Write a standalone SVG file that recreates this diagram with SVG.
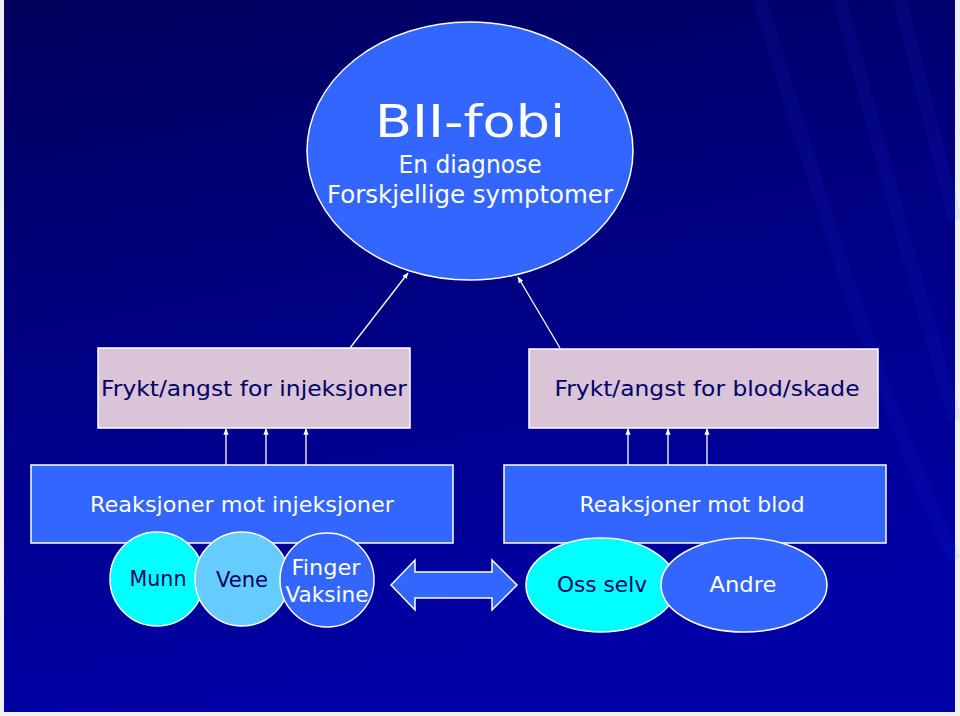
<svg xmlns="http://www.w3.org/2000/svg" width="960" height="716" viewBox="0 0 960 716">
<defs>
<linearGradient id="bg" x1="0" y1="0" x2="0.25" y2="1">
<stop offset="0" stop-color="#00005c"/>
<stop offset="0.45" stop-color="#000080"/>
<stop offset="1" stop-color="#0000a6"/>
</linearGradient>
<marker id="ah" viewBox="0 0 10 10" refX="9" refY="5" markerWidth="5" markerHeight="5" orient="auto">
<path d="M0,1 L10,5 L0,9 Z" fill="#ffffff"/>
</marker>
<style>
.t{font-family:"Comic Sans MS","DejaVu Sans","Liberation Sans",sans-serif;}
.w{fill:#ffffff;}
.n{fill:#000066;}
.pink{fill:#dac4d8;stroke:#ffffff;stroke-width:1.5;}
.blue{fill:#3366ff;stroke:#ffffff;stroke-width:1.5;}
.conn{stroke:#ffffff;stroke-width:1.3;fill:none;marker-end:url(#ah);}
</style>
</defs>
<rect x="0" y="0" width="960" height="716" fill="#f0f0f4"/>
<rect x="4" y="0" width="951" height="712" fill="url(#bg)"/>
<g opacity="0.08" fill="none" stroke="#3344ff" stroke-width="14">
<path d="M760,0 C820,200 880,400 955,560"/>
<path d="M840,0 C880,150 920,300 955,420"/>
<path d="M900,0 C920,80 940,160 955,220"/>
</g>
<g id="connectors">
<line class="conn" x1="350" y1="348" x2="408" y2="273"/>
<line class="conn" x1="560" y1="348" x2="518" y2="277"/>
<line class="conn" x1="226" y1="465" x2="226" y2="429"/>
<line class="conn" x1="266" y1="465" x2="266" y2="429"/>
<line class="conn" x1="306" y1="465" x2="306" y2="429"/>
<line class="conn" x1="628" y1="465" x2="628" y2="429"/>
<line class="conn" x1="668" y1="465" x2="668" y2="429"/>
<line class="conn" x1="707" y1="465" x2="707" y2="429"/>
</g>
<g id="bii">
<ellipse cx="470" cy="151" rx="163" ry="129" class="blue"/>
<text class="t w" x="470" y="137" font-size="44" text-anchor="middle" textLength="190" lengthAdjust="spacingAndGlyphs">BII-fobi</text>
<text class="t w" x="470" y="173" font-size="25" text-anchor="middle" textLength="143" lengthAdjust="spacingAndGlyphs">En diagnose</text>
<text class="t w" x="470" y="203" font-size="25" text-anchor="middle" textLength="286" lengthAdjust="spacingAndGlyphs">Forskjellige symptomer</text>
</g>
<g id="frykt-inj">
<rect x="98" y="348" width="312" height="80" class="pink"/>
<text class="t n" x="254" y="396" font-size="22" text-anchor="middle" textLength="306" lengthAdjust="spacingAndGlyphs">Frykt/angst for injeksjoner</text>
</g>
<g id="frykt-blod">
<rect x="529" y="349" width="349" height="79" class="pink"/>
<text class="t n" x="707" y="396" font-size="22" text-anchor="middle" textLength="305" lengthAdjust="spacingAndGlyphs">Frykt/angst for blod/skade</text>
</g>
<g id="reak-inj">
<rect x="31" y="465" width="422" height="78" class="blue"/>
<text class="t w" x="242" y="512" font-size="22" text-anchor="middle" textLength="304" lengthAdjust="spacingAndGlyphs">Reaksjoner mot injeksjoner</text>
</g>
<g id="reak-blod">
<rect x="504" y="465" width="382" height="78" class="blue"/>
<text class="t w" x="692" y="512" font-size="22" text-anchor="middle" textLength="225" lengthAdjust="spacingAndGlyphs">Reaksjoner mot blod</text>
</g>
<g id="munn">
<circle cx="157" cy="579" r="47" fill="#00ffff" stroke="#ffffff" stroke-width="1.5"/>
<text class="t n" x="158" y="586" font-size="22" text-anchor="middle" textLength="57" lengthAdjust="spacingAndGlyphs">Munn</text>
</g>
<g id="vene">
<circle cx="242" cy="579" r="47" fill="#66ccff" stroke="#ffffff" stroke-width="1.5"/>
<text class="t n" x="242" y="587" font-size="22" text-anchor="middle" textLength="52" lengthAdjust="spacingAndGlyphs">Vene</text>
</g>
<g id="finger">
<circle cx="327" cy="580" r="47" class="blue"/>
<text class="t w" x="326" y="575" font-size="22" text-anchor="middle" textLength="69" lengthAdjust="spacingAndGlyphs">Finger</text>
<text class="t w" x="327" y="602" font-size="22" text-anchor="middle" textLength="83" lengthAdjust="spacingAndGlyphs">Vaksine</text>
</g>
<g id="dobbelpil">
<path d="M391,585 L415,560 L415,572 L492,572 L492,560 L517,585 L492,610 L492,598 L415,598 L415,610 Z" class="blue"/>
</g>
<g id="oss-selv">
<ellipse cx="601" cy="585" rx="75" ry="47" fill="#00ffff" stroke="#ffffff" stroke-width="1.5"/>
<text class="t n" x="602" y="592" font-size="22" text-anchor="middle" textLength="90" lengthAdjust="spacingAndGlyphs">Oss selv</text>
</g>
<g id="andre">
<ellipse cx="744" cy="585" rx="83" ry="47" class="blue"/>
<text class="t w" x="743" y="592" font-size="22" text-anchor="middle" textLength="67" lengthAdjust="spacingAndGlyphs">Andre</text>
</g>
</svg>
